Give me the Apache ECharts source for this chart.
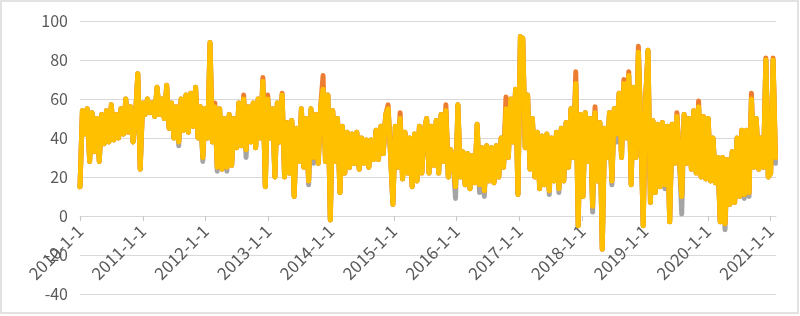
<!DOCTYPE html>
<html>
<head>
<meta charset="utf-8">
<script src="https://cdn.jsdelivr.net/npm/echarts@6/dist/echarts.min.js"></script>
<style>
html,body{margin:0;padding:0;background:#fff;}
#chart{width:800px;height:316px;}
</style>
</head>
<body>
<div id="chart"></div>
<script>
// Series sampled every 14 days starting 2010-01-01
const startDate = '2010-01-01';
const stepDays = 14;
const yearTicks = [2010,2011,2012,2013,2014,2015,2016,2017,2018,2019,2020,2021];
const yTicks = [-40,-20,0,20,40,60,80,100];

const yellowSeries = [
15,54,42,55,28,53,33,50,28,52,37,54,38,57,39,52,40,55,42,60,43,56,38,50,73,24,
58,52,60,53,58,51,66,52,60,50,67,45,58,40,56,38,60,44,62,43,63,46,66,40,56,30,
55,40,89,38,56,25,55,24,50,25,52,26,50,35,58,36,60,34,56,38,58,35,60,40,69,15,60,
40,55,20,58,38,62,20,48,22,49,10,45,28,55,25,50,18,55,30,52,27,56,65,28,62,-2,
54,28,50,12,46,22,43,25,42,27,43,24,40,27,39,25,39,29,44,29,46,32,52,55,32,6,
46,25,50,19,43,22,40,15,42,18,46,22,44,50,22,46,26,49,22,52,28,54,20,34,28,15,
57,20,33,16,32,14,31,17,47,16,35,13,36,18,35,17,36,20,40,25,55,30,60,38,65,11,
92,91,35,62,24,50,20,43,14,41,16,42,13,40,18,43,14,45,18,48,25,55,30,68,-5,52,
10,53,28,50,5,53,18,48,-17,45,30,53,18,55,42,63,30,68,40,72,16,66,30,84,45,-5,60,
85,7,49,12,47,15,48,16,46,-3,47,27,51,30,10,52,27,50,24,54,22,56,20,51,19,50,
18,40,17,30,-3,30,-4,29,6,33,7,40,10,44,11,44,12,60,25,50,24,40,25,80,20,22,80,30
];

const orangeSeries = [
15,54,42,55,28,53,33,50,28,52,37,54,38,57,39,52,40,55,42,60,43,56,38,50,73,24,
58,52,60,53,58,51,66,52,60,50,67,45,58,40,56,38,60,44,62,43,63,46,66,40,56,30,
55,40,89,38,58,25,55,24,50,25,52,26,50,35,58,36,62,34,56,38,58,35,60,40,71,15,62,
40,55,20,58,38,63,20,48,22,49,10,45,28,55,25,50,18,55,30,52,27,56,72,28,62,-2,
54,28,50,12,46,22,43,25,42,27,43,24,40,27,39,25,39,29,44,29,46,32,52,57,32,6,
46,25,53,19,43,22,40,15,42,18,46,22,44,50,22,46,26,49,22,52,28,57,20,34,28,15,
57,20,33,16,32,14,31,17,47,16,35,13,36,18,35,17,36,20,40,25,61,30,60,38,65,11,
92,91,35,62,24,50,20,43,14,41,16,42,13,40,18,43,14,45,18,48,25,55,30,74,-5,52,
10,53,28,50,5,56,18,48,-17,45,30,53,18,55,42,63,30,70,40,74,16,66,30,87,45,-5,60,
85,7,49,12,47,15,48,16,46,-3,47,27,53,30,10,52,27,50,24,54,22,59,20,51,19,50,
18,40,17,30,-3,30,-4,29,6,33,7,40,10,44,11,44,12,63,25,50,24,40,25,81,20,22,81,30
];

const graySeries = [
15,54,42,55,28,53,33,50,28,52,37,54,38,57,39,52,40,55,42,60,43,56,38,50,73,24,
58,52,60,53,58,51,66,52,60,50,67,45,58,40,56,36,60,44,62,43,63,46,66,40,56,28,
55,40,89,38,56,23,55,24,50,23,52,26,50,35,58,36,60,30,56,38,58,35,60,40,69,15,60,
40,55,20,58,38,62,20,48,22,49,10,45,28,55,25,50,16,55,27,52,27,56,65,28,62,-2,
54,28,50,12,46,22,43,25,42,27,43,24,40,27,39,25,39,29,44,29,46,32,52,55,32,6,
46,25,50,19,43,22,40,15,42,18,46,22,44,50,22,46,26,49,22,52,28,54,20,34,28,9,
57,20,33,16,32,14,31,17,47,12,35,10,36,18,35,17,36,20,40,25,55,30,60,38,65,11,
92,91,35,62,24,50,20,43,14,41,16,42,11,40,18,43,12,45,18,48,25,55,30,68,-5,52,
10,53,28,50,2,53,18,48,-17,45,30,53,16,55,38,63,30,68,40,72,16,66,30,84,45,-5,60,
85,7,49,12,47,15,48,14,46,-3,47,27,51,30,1,52,27,50,24,54,22,56,20,51,19,50,
18,40,17,30,-3,30,-7,29,6,33,7,40,10,44,9,44,10,60,25,50,24,40,25,80,20,22,80,27
];

function yearFraction(t) {
  const d = new Date(t);
  const y = d.getUTCFullYear();
  const s = Date.UTC(y, 0, 1), e = Date.UTC(y + 1, 0, 1);
  return y + (t - s) / (e - s);
}
const t0 = Date.parse(startDate + 'T00:00:00Z');
const xs = yellowSeries.map((_, i) => yearFraction(t0 + i * stepDays * 86400000));
const pair = arr => arr.map((v, i) => [xs[i], v]);

const chart = echarts.init(document.getElementById('chart'), null, {renderer: 'canvas'});
const lineStyleBase = {width: 5, cap: 'round', join: 'round'};
chart.setOption({
  animation: false,
  backgroundColor: '#fff',
  grid: {left: 80, right: 24, top: 21, bottom: 22, containLabel: false, outerBoundsMode: 'none'},
  graphic: [{
    type: 'rect', shape: {x: 1, y: 1, width: 797, height: 312},
    style: {fill: 'none', stroke: '#d9d9d9', lineWidth: 1.5}, silent: true, z: -1
  }],
  xAxis: {
    type: 'value', min: yearTicks[0], max: 2021.085, interval: 1,
    position: 'bottom', offset: -78,
    axisLine: {onZero: false, lineStyle: {color: '#d9d9d9', width: 1}},
    axisTick: {show: true, length: 5, customValues: yearTicks, lineStyle: {color: '#c8c8c8'}},
    axisLabel: {
      customValues: yearTicks, rotate: 45, margin: 12, hideOverlap: false,
      formatter: v => Math.round(v) + '-1-1',
      color: '#595959', fontSize: 17, fontFamily: 'Noto Sans CJK SC, Noto Sans, sans-serif'
    },
    splitLine: {show: false}
  },
  yAxis: {
    type: 'value', min: yTicks[0], max: yTicks[yTicks.length - 1], interval: 20,
    axisLine: {show: false}, axisTick: {show: false},
    axisLabel: {color: '#595959', fontSize: 16, margin: 12, fontFamily: 'Noto Sans CJK SC, Noto Sans, sans-serif'},
    splitLine: {lineStyle: {color: '#d9d9d9', width: 1}}
  },
  series: [
    {type: 'line', name: 'gray', data: pair(graySeries), showSymbol: false, symbol: 'none',
     lineStyle: Object.assign({color: '#A5A5A5'}, lineStyleBase), z: 2},
    {type: 'line', name: 'orange', data: pair(orangeSeries), showSymbol: false, symbol: 'none',
     lineStyle: Object.assign({color: '#ED7D31'}, lineStyleBase), z: 3},
    {type: 'line', name: 'yellow', data: pair(yellowSeries), showSymbol: false, symbol: 'none',
     lineStyle: Object.assign({color: '#FFC000'}, lineStyleBase), z: 4}
  ]
});
</script>
</body>
</html>
